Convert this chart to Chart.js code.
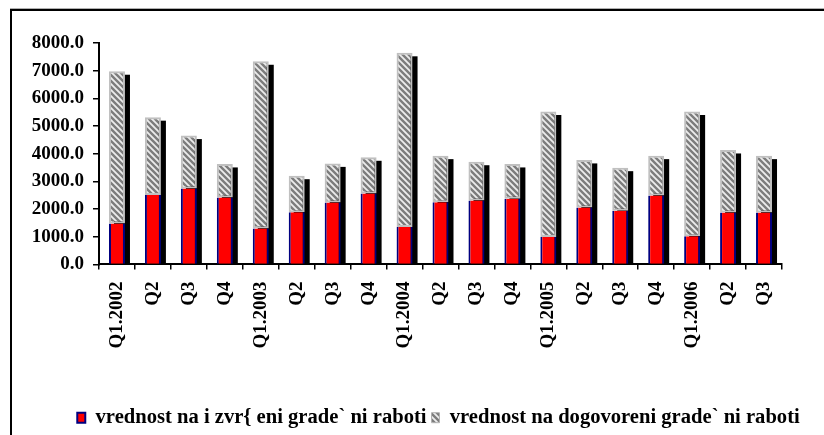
<!DOCTYPE html>
<html>
<head>
<meta charset="utf-8">
<script src="https://cdn.jsdelivr.net/npm/chart.js@4.4.0/dist/chart.umd.min.js"></script>
<style>
  html, body { margin: 0; padding: 0; background: #fff; overflow: hidden; }
  #frame { position: absolute; left: 10px; top: 9px; width: 900px; height: 500px;
           border-left: 2px solid #000; border-top: 2px solid #000; box-shadow: 0 -1px 0 #b0b0b0; }
  #wrap { position: absolute; left: 0; top: 0; width: 877px; height: 438px; }
</style>
</head>
<body>
<div id="frame"></div>
<div id="wrap"><canvas id="chart"></canvas></div>
<script>
// quarters
var quarters = ["Q1.2002", "Q2", "Q3", "Q4", "Q1.2003", "Q2", "Q3", "Q4", "Q1.2004", "Q2", "Q3", "Q4",
  "Q1.2005", "Q2", "Q3", "Q4", "Q1.2006", "Q2", "Q3"];

// vrednost na izvrseni raboti (red, bottom)
var izvrseni = [1475, 2505, 2745, 2420, 1295, 1885, 2240, 2565, 1355, 2250, 2310, 2370,
  990, 2055, 1935, 2490, 1015, 1875, 1875];

// vrednost na dogovoreni raboti (hatched, stacked on top)
var dogovoreni = [5505, 2815, 1910, 1210, 6045, 1320, 1410, 1305, 6290, 1680, 1400, 1260,
  4535, 1720, 1560, 1440, 4510, 2260, 2055];

var seriesNames = ["vrednost na i zvr{ eni grade` ni raboti", "vrednost na dogovoreni grade` ni raboti"];

var yMax = 8000;
var yStep = 1000;

var ctx = document.getElementById("chart").getContext("2d");

// diagonal hatch fill
const makeHatch = () => {
  var c = document.createElement("canvas");
  c.width = 6;
  c.height = 6;
  var g = c.getContext("2d");
  g.fillStyle = "#ececec";
  g.fillRect(0, 0, 6, 6);
  g.strokeStyle = "#7c7c7c";
  g.lineWidth = 2.4;
  g.beginPath();
  g.moveTo(0, 0); g.lineTo(6, 6);
  g.moveTo(-3, 3); g.lineTo(3, 9);
  g.moveTo(3, -3); g.lineTo(9, 3);
  g.stroke();
  return ctx.createPattern(c, "repeat");
};

// black drop shadow behind each stacked column
var shadowPlugin = {
  id: "barShadow",
  beforeDatasetsDraw: function (chart) {
    var bottom = chart.getDatasetMeta(0).data;
    var top = chart.getDatasetMeta(1).data;
    var c = chart.ctx;
    c.save();
    c.fillStyle = "#000";
    for (var i = 0; i < top.length; i++) {
      var t = top[i].getProps(["x", "y", "width"], true);
      var b = bottom[i].getProps(["base"], true);
      c.fillRect(t.x - t.width / 2 + 5, t.y + 3.5, t.width, b.base - t.y - 3.5);
    }
    c.restore();
  },
};

var tickFont = { family: "Liberation Serif", size: 19, weight: "bold" };

var chart = new Chart(ctx, {
  type: "bar",
  data: {
    labels: quarters,
    datasets: [
      {
        label: seriesNames[0],
        data: izvrseni,
        backgroundColor: "#ff0000",
        borderColor: "#000080",
        borderWidth: { left: 2, right: 2, top: 0, bottom: 0 },
        borderSkipped: false,
        barPercentage: 0.445,
        categoryPercentage: 1,
      },
      {
        label: seriesNames[1],
        data: dogovoreni,
        backgroundColor: makeHatch(),
        borderColor: "#c0c0c0",
        borderWidth: 2,
        borderSkipped: false,
        barPercentage: 0.445,
        categoryPercentage: 1,
      },
    ],
  },
  options: {
    responsive: true,
    maintainAspectRatio: false,
    animation: false,
    layout: { padding: { left: 0, right: 0, top: 43, bottom: 0 } },
    plugins: {
      tooltip: { enabled: false },
      legend: {
        position: "bottom",
        labels: {
          boxWidth: 8,
          boxHeight: 10,
          padding: 5,
          color: "#000",
          font: { family: "Liberation Serif", size: 20.6, weight: "bold" },
          generateLabels: function (chart) {
            var items = Chart.defaults.plugins.legend.labels.generateLabels(chart);
            items[0].lineWidth = 2;
            items[1].lineWidth = 1;
            items[1].strokeStyle = "#b0b0b0";
            return items;
          },
        },
      },
    },
    scales: {
      x: {
        stacked: true,
        grid: { drawOnChartArea: false, drawTicks: true, tickLength: 5, color: "#000", lineWidth: 1.5 },
        border: { color: "#000", width: 2 },
        ticks: { color: "#000", font: tickFont, minRotation: 90, maxRotation: 90, autoSkip: false, padding: 12 },
        afterFit: function (s) { s.height = 138; },
      },
      y: {
        stacked: true,
        min: 0,
        max: yMax,
        grid: { drawOnChartArea: false, tickLength: 6, color: "#000", lineWidth: 1.5 },
        border: { color: "#000", width: 2 },
        ticks: {
          stepSize: yStep,
          color: "#000",
          font: tickFont,
          padding: 9,
          callback: function (v) { return v.toFixed(1); },
        },
        afterFit: function (s) { s.width = 99; },
      },
      yR: {
        position: "right",
        grid: { display: false },
        border: { display: false },
        ticks: { display: false },
        afterFit: function (s) { s.width = 95; },
      },
    },
  },
  plugins: [shadowPlugin],
});
</script>
</body>
</html>
